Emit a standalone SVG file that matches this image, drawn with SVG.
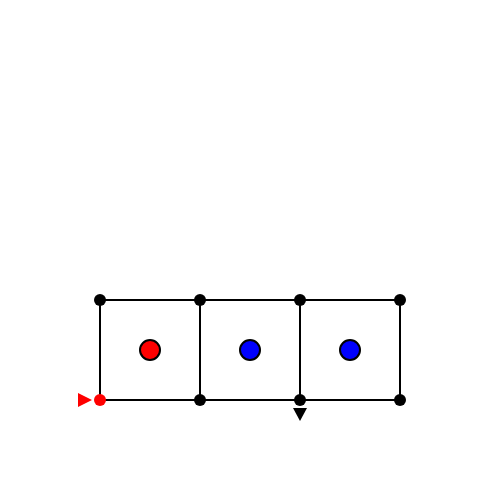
<svg xmlns="http://www.w3.org/2000/svg" width="500" height="500" viewBox="0 0 500 500">
<style>
.e{stroke:#000;stroke-width:2;fill:none}
.v{fill:#000}
.c{stroke:#000;stroke-width:2}
</style>
<rect width="500" height="500" fill="#fff"/>
<g id="edges">
<path class="e" d="M100,300H400M100,400H400M100,300V400M200,300V400M300,300V400M400,300V400"/>
</g>
<g id="cells">
<circle id="c1" class="c" cx="150" cy="350" r="10" fill="#f00"/>
<circle id="c2" class="c" cx="250" cy="350" r="10" fill="#00f"/>
<circle id="c3" class="c" cx="350" cy="350" r="10" fill="#00f"/>
</g>
<g id="vertices">
<circle class="v" cx="100" cy="300" r="6"/>
<circle class="v" cx="200" cy="300" r="6"/>
<circle class="v" cx="300" cy="300" r="6"/>
<circle class="v" cx="400" cy="300" r="6"/>
<circle cx="100" cy="400" r="6" fill="#f00"/>
<circle class="v" cx="200" cy="400" r="6"/>
<circle class="v" cx="300" cy="400" r="6"/>
<circle class="v" cx="400" cy="400" r="6"/>
</g>
<g id="markers">
<polygon points="78,393 92,400 78,407" fill="#f00"/>
<polygon points="293,408 307,408 300,421" fill="#000"/>
</g>
</svg>
